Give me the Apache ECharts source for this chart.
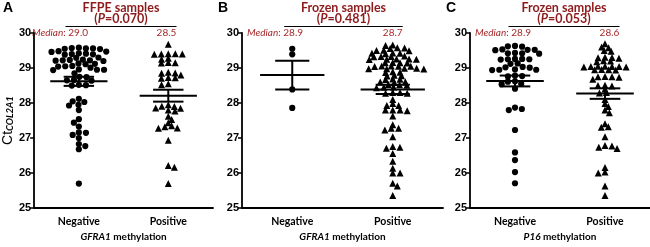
<!DOCTYPE html>
<html>
<head>
<meta charset="utf-8">
<script src="https://cdn.jsdelivr.net/npm/echarts@6/dist/echarts.min.js"></script>
<style>
    html, body { margin: 0; padding: 0; background: #fff; }
    #main { width: 650px; height: 247px; }
</style>
</head>
<body>
<div id="main"></div>
<script>
const groups = ['Negative', 'Positive']
const panelLetters = ['A', 'B', 'C']
const sampleTitles = ['FFPE samples', 'Frozen samples', 'Frozen samples']
const pValues = ['0.070', '0.481', '0.053']
const geneNames = ['GFRA1', 'GFRA1', 'P16']
const medianLabels = [['29.0', '28.5'], ['28.9', '28.7'], ['28.9', '28.6']]

// Ct values
const ffpeNeg = [
    29.58, 29.56, 29.55, 29.57, 29.54, 29.56,
    29.47, 29.48, 29.46,
    29.40, 29.39, 29.42, 29.38, 29.41,
    29.30, 29.29,
    29.23, 29.22, 29.21, 29.24, 29.20, 29.22,
    29.12, 29.11, 29.13,
    29.05, 29.04, 29.06, 29.01,
    28.95, 28.94, 28.96, 28.95,
    28.85,
    28.75, 28.74,
    28.66, 28.65, 28.64,
    28.52, 28.50, 28.51,
    28.12, 28.05, 28.03, 27.95, 27.93, 27.80, 27.54, 27.44, 27.33,
    27.16, 27.15, 27.09, 27.00, 26.83, 26.77, 26.68, 25.70
]
const ffpePos = [
    29.68,
    29.41, 29.40, 29.39, 29.40, 29.41,
    29.28, 29.25,
    29.15, 29.14, 29.16,
    28.88, 28.85, 28.86,
    28.80, 28.72, 28.71, 28.73,
    28.55, 28.52,
    27.95, 27.90, 27.86, 27.85, 27.80, 27.77, 27.91,
    27.62, 27.53,
    27.44, 27.35, 27.32, 27.29, 27.28,
    26.94,
    26.22, 26.17,
    25.70
]
const frozenNeg = [29.55, 29.39, 28.39, 27.86]
const frozenPos = [
    29.66, 29.64,
    29.58, 29.57, 29.56,
    29.51, 29.50, 29.49,
    29.43, 29.42, 29.41, 29.42,
    29.34, 29.33, 29.32, 29.33,
    29.26, 29.25, 29.24, 29.25, 29.26,
    29.16, 29.15, 29.14, 29.15,
    29.06, 29.05, 29.04, 29.05, 29.06,
    28.99, 28.98, 28.97, 28.98, 28.99,
    28.89, 28.88, 28.87,
    28.79, 28.78, 28.77,
    28.69, 28.68, 28.67,
    28.61, 28.60, 28.59,
    28.53, 28.52, 28.51,
    28.46, 28.45, 28.44,
    28.30, 28.30, 28.28, 28.28, 28.10, 27.99, 27.93, 27.93,
    27.80, 27.80, 27.78, 27.80, 27.63, 27.38, 27.28, 27.28, 27.23,
    27.04, 26.76, 26.74, 26.71, 26.56, 26.34, 26.14, 26.00, 26.00,
    25.71, 25.63, 25.36
]
const p16Neg = [
    29.63, 29.62, 29.61,
    29.53, 29.52, 29.51, 29.52,
    29.43, 29.42, 29.41, 29.42,
    29.26, 29.25, 29.24, 29.25, 29.26,
    29.13, 29.12,
    29.03, 29.02, 29.01,
    28.96, 28.95, 28.94, 28.95,
    28.78, 28.77, 28.76,
    28.62, 28.61,
    28.55, 28.54,
    28.41, 27.87, 27.83, 27.80, 27.23, 26.59, 26.37, 26.03, 25.71
]
const p16Pos = [
    29.69, 29.60, 29.58, 29.50, 29.48,
    29.30, 29.31, 29.29, 29.28,
    29.20, 29.21, 29.18,
    29.04, 29.05, 29.03, 29.04, 29.05, 29.03, 29.04,
    28.95, 28.96, 28.94, 28.95,
    28.75, 28.76, 28.74, 28.75,
    28.68,
    28.50, 28.51, 28.49,
    28.40,
    28.30, 28.29,
    28.10, 27.99, 27.90, 27.80, 27.72,
    27.41, 27.32, 27.31, 27.04,
    26.79, 26.77, 26.74, 26.70,
    26.16, 26.03, 26.00, 25.63, 25.36
]
const panelData = [[ffpeNeg, ffpePos], [frozenNeg, frozenPos], [p16Neg, p16Pos]]

// mean +/- SEM bars as drawn
const meanVals = [[28.62, 28.21], [28.80, 28.39], [28.63, 28.27]]
const semVals = [[0.13, 0.17], [0.41, 0.13], [0.155, 0.15]]

const grids = [
    { left: 27, width: 186 },
    { left: 242, width: 201 },
    { left: 470, width: 186 }
]
const gridTop = 33
const gridHeight = 186
const darkRed = '#8e1b1b'
const medianRed = '#a8292b'

// beeswarm: each point goes to the free spot nearest the group centre
// (dw = horizontal clearance, dh = vertical clearance, markers may overlap a bit vertically)
function swarm(values, pxPerX, pxPerY, dw, dh) {
    const order = values.map((v, i) => i).sort((a, b) => values[b] - values[a])
    const placed = []
    const offsets = []
    let flip = 1
    order.forEach(i => {
        const y = values[i] * pxPerY
        const blocks = []
        placed.forEach(p => {
            const dy = Math.abs(y - p[1])
            if (dy < dh) {
                const w = dw * Math.sqrt(1 - (dy / dh) * (dy / dh))
                blocks.push([p[0] - w, p[0] + w])
            }
        })
        const cands = [0]
        blocks.forEach(b => cands.push(b[0], b[1]))
        let best = null
        cands.forEach(c => {
            if (blocks.some(b => c > b[0] + 1e-6 && c < b[1] - 1e-6)) return
            if (best === null || Math.abs(c) < Math.abs(best) - 1e-6 ||
                (Math.abs(Math.abs(c) - Math.abs(best)) < 1e-6 && c * flip > 0)) {
                best = c
            }
        })
        flip = -flip
        placed.push([best, y])
        offsets[i] = best / pxPerX
    })
    return offsets
}

const xAxes = []
const yAxes = []
const series = []
const graphics = []

grids.forEach((g, p) => {
    const pxPerX = g.width / 2
    const pxPerY = gridHeight / 5
    const negX = g.left + g.width * 0.25
    const posX = g.left + g.width * 0.75

    xAxes.push({
        type: 'category',
        gridIndex: p,
        data: groups,
        boundaryGap: true,
        axisLine: { lineStyle: { color: '#000', width: 1.8 } },
        axisTick: { alignWithLabel: true, length: 3, lineStyle: { color: '#000', width: 1.2 } },
        axisLabel: { color: '#000', fontWeight: 'bold', fontSize: 10.5, fontFamily: 'Lato', margin: 8 },
        name: '{i|' + geneNames[p] + '} methylation',
        nameLocation: 'middle',
        nameGap: 23,
        nameTextStyle: {
            color: '#000', fontWeight: 'bold', fontSize: 10, fontFamily: 'Lato',
            rich: { i: { fontStyle: 'italic', fontWeight: 'bold', fontSize: 10, fontFamily: 'Lato', color: '#000' } }
        }
    })
    xAxes.push({
        type: 'value',
        gridIndex: p,
        min: -0.5,
        max: 1.5,
        show: false
    })
    yAxes.push({
        type: 'value',
        gridIndex: p,
        min: 25,
        max: 30,
        interval: 1,
        axisLine: { show: true, onZero: false, lineStyle: { color: '#000', width: 1.8 } },
        axisTick: { show: true, length: 4, lineStyle: { color: '#000', width: 1.5 } },
        axisLabel: { color: '#000', fontWeight: 'bold', fontSize: 11, fontFamily: 'Arial', margin: 3 },
        splitLine: { show: false },
        name: p === 0 ? '{a|Ct}{b|COL2A1}' : '',
        nameLocation: 'middle',
        nameRotate: 90,
        nameGap: 15,
        nameTextStyle: {
            rich: {
                a: { fontSize: 14, fontFamily: 'Arial', color: '#000' },
                b: { fontSize: 9.5, fontStyle: 'italic', fontWeight: 'bold', fontFamily: 'Lato', color: '#000', verticalAlign: 'bottom' }
            }
        }
    })

    panelData[p].forEach((vals, gi) => {
        const offs = gi === 0
            ? swarm(vals, pxPerX, pxPerY, 7.4, 5.2)
            : swarm(vals, pxPerX, pxPerY, 7.3, 3.8)
        series.push({
            type: 'scatter',
            xAxisIndex: p * 2 + 1,
            yAxisIndex: p,
            symbol: gi === 0 ? 'circle' : 'triangle',
            symbolSize: gi === 0 ? 6.2 : 7,
            itemStyle: { color: '#000', opacity: 1 },
            silent: true,
            data: vals.map((v, i) => [gi + offs[i], v])
        })
    })

    series.push({
        type: 'custom',
        xAxisIndex: p * 2 + 1,
        yAxisIndex: p,
        z: 5,
        silent: true,
        data: groups.map((name, gi) => [gi, meanVals[p][gi], semVals[p][gi]]),
        renderItem(params, api) {
            const x = api.value(0)
            const m = api.value(1)
            const s = api.value(2)
            const style = { stroke: '#000', lineWidth: 2 }
            const seg = (xa, ya, xb, yb) => {
                const a = api.coord([xa, ya])
                const b = api.coord([xb, yb])
                return { type: 'line', shape: { x1: a[0], y1: a[1], x2: b[0], y2: b[1] }, style: style }
            }
            return {
                type: 'group',
                children: [
                    seg(x - 0.32, m, x + 0.32, m),
                    seg(x - 0.17, m + s, x + 0.17, m + s),
                    seg(x - 0.17, m - s, x + 0.17, m - s),
                    seg(x, m - s, x, m + s)
                ]
            }
        }
    })

    const midX = (negX - 8 + posX + 10) / 2
    graphics.push({
        type: 'text', left: g.left - 24, top: 1,
        style: { text: panelLetters[p], fontSize: 14, fontWeight: 'bold', fontFamily: 'Arial', fill: '#000' }
    })
    graphics.push({
        type: 'text', x: midX, y: 7.5,
        style: {
            text: sampleTitles[p], fontSize: 12.5, fontWeight: 'bold', fontFamily: 'Lato', fill: darkRed,
            align: 'center', verticalAlign: 'middle'
        }
    })
    graphics.push({
        type: 'text', x: midX, y: 18.5,
        style: {
            text: '({i|P}=' + pValues[p] + ')', fontSize: 12.5, fontWeight: 'bold', fontFamily: 'Lato', fill: darkRed,
            align: 'center', verticalAlign: 'middle',
            rich: { i: { fontStyle: 'italic', fontWeight: 'bold', fontSize: 12.5, fontFamily: 'Lato', fill: darkRed } }
        }
    })
    graphics.push({
        type: 'line',
        shape: { x1: negX - 8, y1: 26.5, x2: posX + 10, y2: 26.5 },
        style: { stroke: '#000', lineWidth: 1.2 }
    })
    graphics.push({
        type: 'text', x: g.left + 5, y: 33,
        style: {
            text: '{i|Median}: ' + medianLabels[p][0], fontSize: 10, fontFamily: 'Lato', fill: medianRed,
            align: 'left', verticalAlign: 'middle',
            rich: { i: { fontStyle: 'italic', fontSize: 10, fontFamily: 'Lato', fill: medianRed } }
        }
    })
    graphics.push({
        type: 'text', x: posX, y: 33,
        style: {
            text: medianLabels[p][1], fontSize: 10, fontFamily: 'Lato', fill: medianRed,
            align: 'center', verticalAlign: 'middle'
        }
    })
})

const option = {
    animation: false,
    backgroundColor: '#fff',
    grid: grids.map(g => ({ left: g.left, width: g.width, top: gridTop, height: gridHeight })),
    xAxis: xAxes,
    yAxis: yAxes,
    series: series,
    graphic: graphics
}

const myChart = echarts.init(document.getElementById('main'))
myChart.setOption(option)
</script>
</body>
</html>
